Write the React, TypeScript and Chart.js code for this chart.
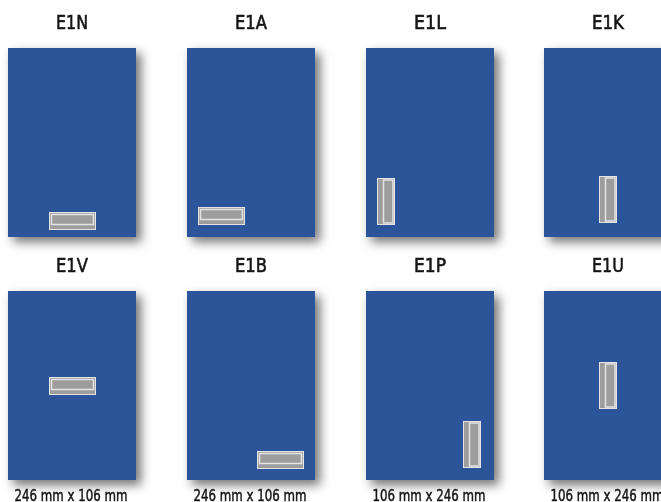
import React, { useEffect, useRef } from "react";
import { Chart, registerables } from "chart.js";

Chart.register(...registerables);

// ---- data ----
const codes = ["E1N", "E1A", "E1L", "E1K", "E1V", "E1B", "E1P", "E1U"];
const handleOrientation = ["h", "h", "v", "v", "h", "h", "v", "v"];
// handle centre as a fraction of the panel (from left / from top)
const handleFracX = [0.5, 0.27, 0.16, 0.5, 0.5, 0.73, 0.83, 0.5];
const handleFracY = [0.915, 0.89, 0.81, 0.8, 0.5, 0.894, 0.81, 0.5];
const sizeLabels = ["246 mm x 106 mm", "246 mm x 106 mm", "106 mm x 246 mm", "106 mm x 246 mm"];

// ---- layout (data units == page pixels) ----
const W = 661;
const H = 502;
const colLeft = [8, 187, 366, 544];
const rowTop = [48, 291];
const panelW = 128;
const panelH = 189;
const hLong = 47;
const hShort = 18;
const titleBaseGap = 19.5;
const captionBase = 501;
const titleMaxW = 32;
const captionMaxW = 113;

const PANEL = "#2b5598";
const HANDLE = "#9d9d9d";
const HANDLE_EDGE = "#e4e4e4";
const TEXT = "#151515";
const FONT = '"DejaVu Sans", sans-serif';

const cells = codes.map((c, i) => ({ col: i % 4, row: Math.floor(i / 4) }));

function heavyText(ctx: CanvasRenderingContext2D, t: string, x: number, y: number, maxW: number, sw: number) {
  ctx.fillText(t, x, y, maxW);
  ctx.lineWidth = sw;
  ctx.strokeText(t, x, y, maxW);
}

const panelPlugin = {
  id: "panels",
  afterDraw(chart: any) {
    const ctx = chart.ctx as CanvasRenderingContext2D;
    const xs = chart.scales.x;
    const ys = chart.scales.y;
    const px = (v: number) => xs.getPixelForValue(v);
    const py = (v: number) => ys.getPixelForValue(v);

    codes.forEach((code, i) => {
      const { col, row } = cells[i];
      const x0 = colLeft[col];
      const y0 = rowTop[row];
      const L = px(x0), R = px(x0 + panelW), T = py(y0), B = py(y0 + panelH);

      // panel with shadow
      ctx.save();
      ctx.shadowColor = "rgba(0,0,0,0.55)";
      ctx.shadowBlur = 10;
      ctx.shadowOffsetX = 5;
      ctx.shadowOffsetY = 5;
      ctx.fillStyle = PANEL;
      ctx.fillRect(L, T, R - L, B - T);
      ctx.restore();

      // title
      ctx.save();
      ctx.fillStyle = TEXT;
      ctx.strokeStyle = TEXT;
      ctx.font = `19px ${FONT}`;
      ctx.textAlign = "center";
      ctx.textBaseline = "alphabetic";
      heavyText(ctx, code, px(x0 + panelW / 2), py(y0 - titleBaseGap), titleMaxW, 0.6);
      ctx.restore();

      // handle
      const horiz = handleOrientation[i] === "h";
      const hw = horiz ? hLong : hShort;
      const hh = horiz ? hShort : hLong;
      const cx = x0 + handleFracX[i] * panelW;
      const cy = y0 + handleFracY[i] * panelH;
      const hl = Math.round(px(cx - hw / 2)) + 0.5;
      const ht = Math.round(py(cy - hh / 2)) + 0.5;
      const hwp = Math.round(px(cx + hw / 2) - px(cx - hw / 2));
      const hhp = Math.round(py(cy + hh / 2) - py(cy - hh / 2));
      ctx.save();
      ctx.fillStyle = HANDLE;
      ctx.fillRect(hl - 0.5, ht - 0.5, hwp, hhp);
      ctx.strokeStyle = HANDLE_EDGE;
      ctx.lineWidth = 1;
      ctx.strokeRect(hl, ht, hwp - 1, hhp - 1);
      ctx.lineWidth = 1.5;
      if (horiz) {
        ctx.strokeRect(hl + 2, ht + 2, hwp - 5, hhp - 8);
      } else {
        ctx.strokeRect(hl + 6, ht + 1.5, hwp - 8.5, hhp - 4);
      }
      ctx.restore();
    });

    // captions
    ctx.save();
    ctx.fillStyle = TEXT;
    ctx.strokeStyle = TEXT;
    ctx.font = `15px ${FONT}`;
    ctx.textAlign = "center";
    ctx.textBaseline = "alphabetic";
    sizeLabels.forEach((lab, c) => {
      heavyText(ctx, lab, px(colLeft[c] + panelW / 2 - 1), py(captionBase), captionMaxW, 0.5);
    });
    ctx.restore();
  },
};

export default function App() {
  const ref = useRef<HTMLCanvasElement>(null);
  useEffect(() => {
    if (!ref.current) return;
    const chart = new Chart(ref.current, {
      type: "scatter",
      data: {
        datasets: [
          {
            label: "handles",
            data: codes.map((_, i) => ({
              x: colLeft[cells[i].col] + handleFracX[i] * panelW,
              y: rowTop[cells[i].row] + handleFracY[i] * panelH,
            })),
            pointRadius: 0,
            pointHoverRadius: 0,
          },
        ],
      },
      options: {
        responsive: false,
        animation: false,
        events: [],
        layout: { padding: 0 },
        plugins: { legend: { display: false }, tooltip: { enabled: false } },
        scales: {
          x: { type: "linear", min: 0, max: W, display: false },
          y: { type: "linear", min: 0, max: H, reverse: true, display: false },
        },
      },
      plugins: [panelPlugin],
    });
    return () => chart.destroy();
  }, []);
  return (
    <div style={{ position: "fixed", left: 0, top: 0, width: W, height: H, background: "#fff" }}>
      <canvas ref={ref} width={W} height={H} style={{ display: "block", width: W, height: H }} />
    </div>
  );
}
